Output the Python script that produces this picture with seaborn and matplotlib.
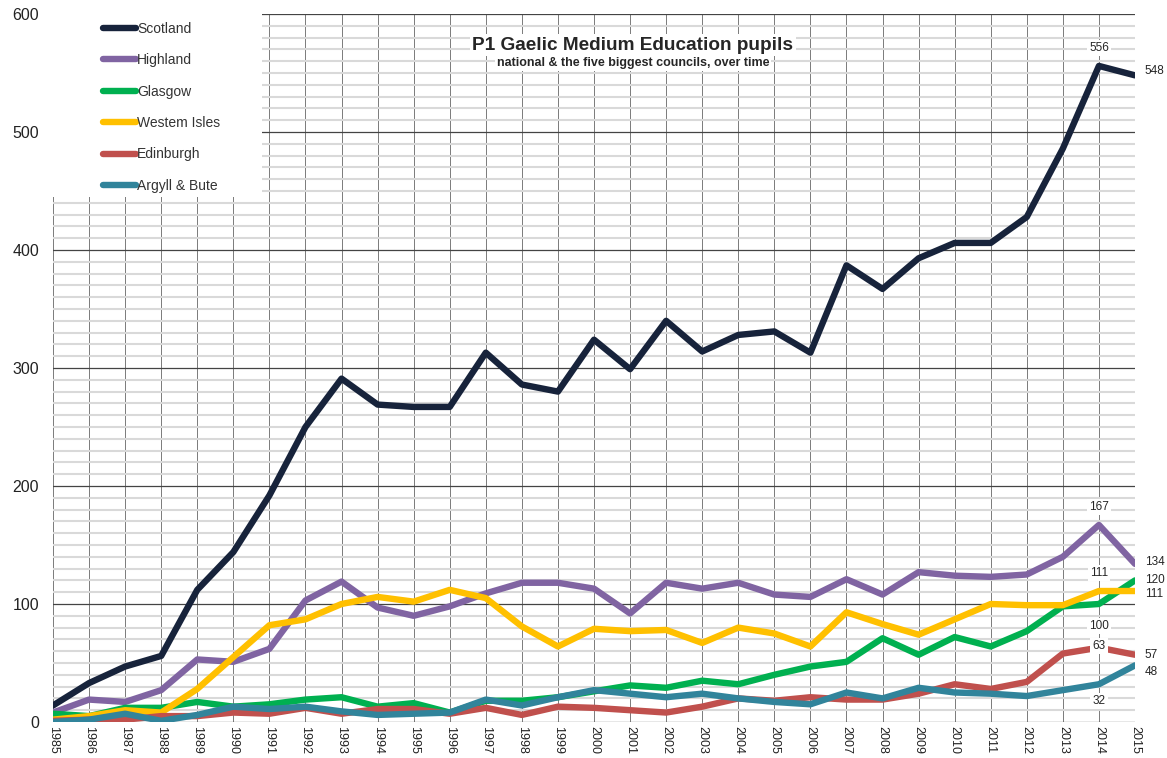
import numpy as np
import pandas as pd
import matplotlib.pyplot as plt
import seaborn as sns
from matplotlib.lines import Line2D
from matplotlib.patches import Rectangle
from matplotlib.ticker import MultipleLocator

# Data
years = list(range(1985, 2016))
scotland = [14, 33, 47, 56, 112, 144, 192, 250, 291, 269, 267, 267, 313, 286, 280, 324,
            299, 340, 314, 328, 331, 313, 387, 367, 393, 406, 406, 428, 486, 556, 548]
highland = [8, 19, 17, 27, 53, 51, 62, 103, 119, 97, 90, 98, 109, 118, 118, 113,
            92, 118, 113, 118, 108, 106, 121, 108, 127, 124, 123, 125, 140, 167, 134]
glasgow = [7, 5, 12, 12, 17, 13, 15, 19, 21, 13, 16, 8, 18, 18, 21, 26,
           31, 29, 35, 32, 40, 47, 51, 71, 57, 72, 64, 77, 98, 100, 120]
western_isles = [2, 5, 10, 8, 28, 55, 82, 87, 100, 106, 102, 112, 105, 81, 64, 79,
                 77, 78, 67, 80, 75, 64, 93, 83, 74, 87, 100, 99, 99, 111, 111]
edinburgh = [1, 2, 2, 5, 5, 8, 7, 12, 7, 11, 11, 7, 12, 6, 13, 12,
             10, 8, 13, 20, 18, 21, 19, 19, 24, 32, 28, 34, 58, 63, 57]
argyll = [0, 2, 7, 1, 6, 13, 11, 13, 9, 6, 7, 8, 19, 14, 21, 27,
          24, 21, 24, 20, 17, 15, 25, 20, 29, 25, 24, 22, 27, 32, 48]

councils = ['Scotland', 'Highland', 'Glasgow', 'Westem Isles', 'Edinburgh', 'Argyll & Bute']
series = [scotland, highland, glasgow, western_isles, edinburgh, argyll]
colours = ['#17233b', '#8064a2', '#00b050', '#ffc000', '#c0504d', '#31849b']

df = pd.DataFrame({
    'year': np.tile(years, len(councils)),
    'pupils': np.concatenate(series),
    'council': np.repeat(councils, len(years)),
})

sns.set_style('white')
plt.rcParams['font.family'] = ['Liberation Sans', 'DejaVu Sans']

fig = plt.figure(figsize=(11.67, 7.58), dpi=100)
ax = fig.add_axes([53 / 1167, 36 / 758, (1135 - 53) / 1167, (722 - 14) / 758])

sns.lineplot(data=df, x='year', y='pupils', hue='council', palette=colours,
             hue_order=councils, linewidth=4.6, ax=ax, legend=False, zorder=3)
for ln in ax.get_lines():
    ln.set_solid_capstyle('round')
    ln.set_solid_joinstyle('round')

ax.set_xlim(1985, 2015)
ax.set_ylim(0, 600)
ax.set_xticks(years)
ax.set_xticklabels([str(y) for y in years], rotation=270, fontsize=9)
ax.yaxis.set_major_locator(MultipleLocator(100))
ax.yaxis.set_minor_locator(MultipleLocator(10))
ax.tick_params(axis='y', labelsize=11.5, pad=10, length=0, labelcolor='#222222')
ax.tick_params(axis='x', pad=3, length=0, labelcolor='#222222')
ax.set_axisbelow(True)
ax.grid(which='minor', axis='y', color='#d9d9d9', lw=1.5)
ax.grid(which='major', axis='y', color='#444444', lw=0.9)
ax.grid(which='major', axis='x', color='#7a7a7a', lw=0.7)
for s in ax.spines.values():
    s.set_visible(False)
ax.set_xlabel('')
ax.set_ylabel('')

# white block behind legend
ax.add_patch(Rectangle((53, 758 - 197), 262 - 53, 197, transform=None, facecolor='white',
                       edgecolor='none', zorder=1, clip_on=False))

handles = [Line2D([], [], color=c, lw=4.6, solid_capstyle='round') for c in colours]
ax.legend(handles, councils, loc='upper left', bbox_to_anchor=(96 / 1167, 1 - 15 / 758),
          bbox_transform=fig.transFigure, frameon=False, fontsize=10,
          handlelength=2.35, handletextpad=0.1, labelspacing=1.25, borderpad=0,
          labelcolor='#333333')

box = dict(facecolor='white', edgecolor='none', pad=1.5)
fig.text(633 / 1167, 1 - 45 / 758, 'P1 Gaelic Medium Education pupils', ha='center',
         va='center', fontsize=13.7, fontweight='bold',
         bbox=dict(facecolor='white', edgecolor='none', pad=2))
fig.text(633 / 1167, 1 - 63 / 758, 'national & the five biggest councils, over time',
         ha='center', va='center', fontsize=9, fontweight='bold', bbox=box)

# value labels
last = {c: s[-1] for c, s in zip(councils, series)}
right_off = {'Scotland': 3, 'Highland': 1, 'Glasgow': 0, 'Westem Isles': -2,
             'Edinburgh': 0, 'Argyll & Bute': -5}
for c in councils:
    ax.annotate(str(last[c]), (2015, last[c]), xytext=(7, right_off[c]),
                textcoords='offset points', ha='left', va='center', fontsize=8.5,
                annotation_clip=False)

y14 = {c: s[-2] for c, s in zip(councils, series)}
above = {'Scotland': 13, 'Highland': 13, 'Glasgow': -16, 'Westem Isles': 13,
         'Edinburgh': 1, 'Argyll & Bute': -12}
for c in councils:
    ax.annotate(str(y14[c]), (2014, y14[c]), xytext=(0, above[c]),
                textcoords='offset points', ha='center', va='center', fontsize=8.5,
                bbox=box, zorder=4)

fig.savefig('out.png', dpi=100)
